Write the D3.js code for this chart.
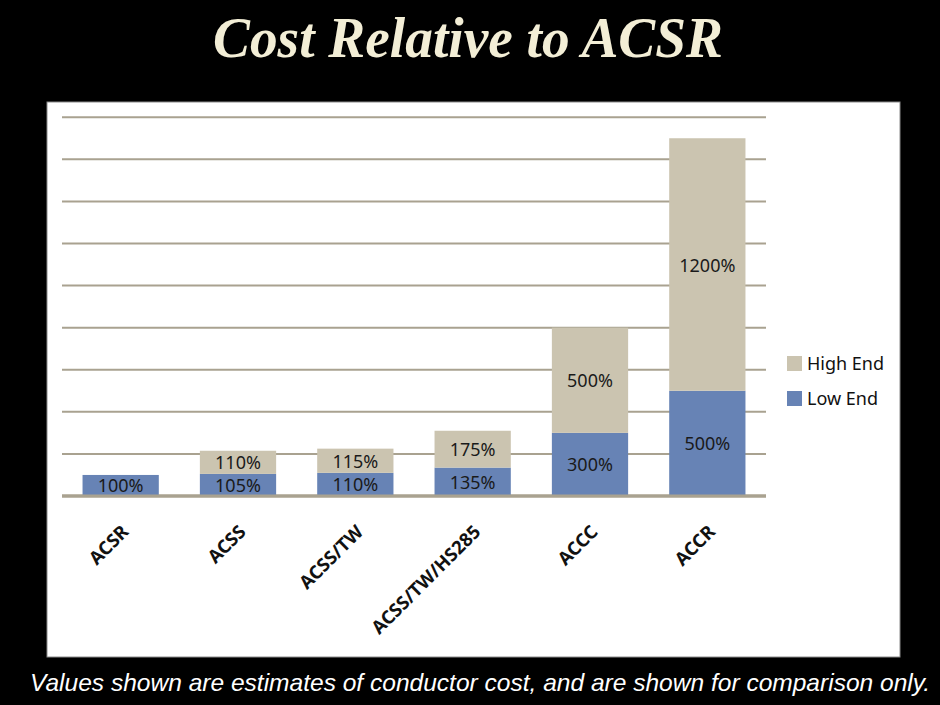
<!DOCTYPE html>
<html>
<head>
<meta charset="utf-8">
<script src="https://cdn.jsdelivr.net/npm/d3@7"></script>
<style>
  body { margin: 0; background: #000; }
  svg { display: block; }
</style>
</head>
<body>
<script>
// chart data
const categories = ["ACSR", "ACSS", "ACSS/TW", "ACSS/TW/HS285", "ACCC", "ACCR"];
const lowEnd  = [1.00, 1.05, 1.10, 1.35, 3.00, 5.00];
const highEnd = [0, 1.10, 1.15, 1.75, 5.00, 12.00];
const seriesNames = ["High End", "Low End"];
const yTicks = [0, 2, 4, 6, 8, 10, 12, 14, 16, 18];

const titleText = "Cost Relative to ACSR";
const noteText = "Values shown are estimates of conductor cost, and are shown for comparison only.";

const colors = { low: "#6783b5", high: "#cbc4b0", grid: "#a9a290" };

let rows = categories.map((c, i) => ({ cat: c, low: lowEnd[i], high: highEnd[i] }));

let svg = d3.select("body").append("svg")
    .attr("width", 940)
    .attr("height", 705);

svg.append("rect")
    .attr("width", 940).attr("height", 705)
    .attr("fill", "#000");

// title
svg.append("text")
    .attr("x", 213).attr("y", 57)
    .attr("textLength", 510)
    .attr("lengthAdjust", "spacingAndGlyphs")
    .style("font-family", "'Liberation Serif', 'Times New Roman', serif")
    .style("font-weight", "bold")
    .style("font-style", "italic")
    .style("font-size", "57px")
    .attr("fill", "#f3eed6")
    .text(titleText);

// white chart panel
svg.append("rect")
    .attr("x", 47).attr("y", 102)
    .attr("width", 853).attr("height", 555)
    .attr("fill", "#fff")
    .attr("stroke", "#8a8a8a")
    .attr("stroke-width", 1);

let xScale = d3.scaleBand()
    .domain(categories)
    .range([62, 766])
    .paddingInner(0.35)
    .paddingOuter(0.175);

let yScale = d3.scaleLinear()
    .domain([0, 18])
    .range([496, 117.2]);

// gridlines
svg.append("g")
    .selectAll("line")
    .data(yTicks)
    .join("line")
    .attr("x1", 62).attr("x2", 766)
    .attr("y1", d => yScale(d)).attr("y2", d => yScale(d))
    .attr("stroke", colors.grid)
    .attr("stroke-width", d => d === 0 ? 3 : 2);

let stack = d3.stack().keys(["low", "high"]);
let layers = stack(rows);

let bars = svg.append("g");
layers.forEach(layer => {
  let g = bars.append("g").attr("fill", colors[layer.key]);
  g.selectAll("rect")
    .data(layer.filter(d => d[1] - d[0] > 0))
    .join("rect")
    .attr("x", d => xScale(d.data.cat))
    .attr("width", xScale.bandwidth())
    .attr("y", d => yScale(d[1]))
    .attr("height", d => yScale(d[0]) - yScale(d[1]));
});

// baseline on top of bars
svg.append("line")
    .attr("x1", 62).attr("x2", 766)
    .attr("y1", yScale(0)).attr("y2", yScale(0))
    .attr("stroke", colors.grid)
    .attr("stroke-width", 3);

// value labels
let fmt = d3.format(".0%");
layers.forEach(layer => {
  svg.append("g").selectAll("text")
    .data(layer.filter(d => d[1] - d[0] > 0))
    .join("text")
    .attr("x", d => xScale(d.data.cat) + xScale.bandwidth() / 2)
    .attr("y", d => (yScale(d[0]) + yScale(d[1])) / 2 + 7)
    .attr("text-anchor", "middle")
    .style("font-family", "'Noto Sans', sans-serif")
    .style("font-size", "18px")
    .attr("fill", "#1a1a1a")
    .text(d => fmt(d.data[layer.key]));
});

// category labels
svg.append("g").selectAll("text")
    .data(categories)
    .join("text")
    .attr("transform", d => "translate(" + (xScale(d) + xScale.bandwidth() / 2 + 9) + ",533) rotate(-45)")
    .attr("text-anchor", "end")
    .style("font-family", "'Noto Sans', sans-serif")
    .style("font-weight", "bold")
    .style("font-size", "18.5px")
    .attr("fill", "#111")
    .text(d => d);

// legend
let legend = svg.append("g").attr("transform", "translate(787,356)");
seriesNames.forEach((name, i) => {
  let row = legend.append("g").attr("transform", "translate(0," + (i * 35) + ")");
  row.append("rect")
      .attr("width", 15).attr("height", 15)
      .attr("fill", name === "High End" ? colors.high : colors.low);
  row.append("text")
      .attr("x", 20).attr("y", 14)
      .style("font-family", "'Noto Sans', sans-serif")
      .style("font-size", "18px")
      .attr("fill", "#111")
      .text(name);
});

// footnote
svg.append("text")
    .attr("x", 30).attr("y", 691)
    .attr("textLength", 900)
    .attr("lengthAdjust", "spacingAndGlyphs")
    .style("font-family", "'Liberation Sans', Arial, sans-serif")
    .style("font-style", "italic")
    .style("font-size", "24px")
    .attr("fill", "#fff")
    .text(noteText);
</script>
</body>
</html>
